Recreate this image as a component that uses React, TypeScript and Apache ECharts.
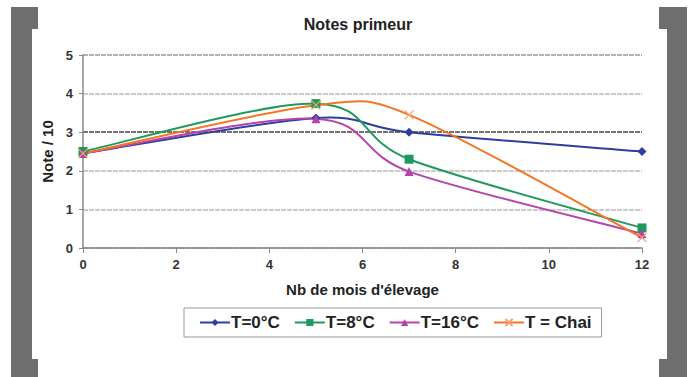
import React, { useEffect, useRef } from "react";
import * as echarts from "echarts";

const months = [0, 5, 7, 12];
const t0 = [2.45, 3.37, 3.0, 2.5];
const t8 = [2.5, 3.74, 2.3, 0.52];
const t16 = [2.45, 3.35, 1.98, 0.37];
const tChai = [2.45, 3.7, 3.45, 0.27];
const seriesNames = ["T=0°C", "T=8°C", "T=16°C", "T = Chai"];
const colors = ["#2f3e9c", "#1f9a5c", "#b444aa", "#f47422"];
const xTicks = [0, 2, 4, 6, 8, 10, 12];

const pair = (ys: number[]) => months.map((m, i) => [m, ys[i]]);

// Excel-like smoothed curve: Catmull-Rom (1/6) control points in pixel space,
// each control arm limited to half of its segment's length
function smoothPath(pts: number[][]) {
  const n = pts.length;
  const clamp = (v: number[], maxLen: number) => {
    const len = Math.hypot(v[0], v[1]);
    if (len <= maxLen || len === 0) return v;
    return [(v[0] * maxLen) / len, (v[1] * maxLen) / len];
  };
  let d = `M${pts[0][0]},${pts[0][1]}`;
  for (let i = 0; i < n - 1; i++) {
    const p0 = pts[Math.max(0, i - 1)];
    const p1 = pts[i];
    const p2 = pts[i + 1];
    const p3 = pts[Math.min(n - 1, i + 2)];
    const half = Math.hypot(p2[0] - p1[0], p2[1] - p1[1]) / 2;
    const a = clamp([(p2[0] - p0[0]) / 6, (p2[1] - p0[1]) / 6], half);
    const b = clamp([(p3[0] - p1[0]) / 6, (p3[1] - p1[1]) / 6], half);
    d += `C${p1[0] + a[0]},${p1[1] + a[1]},${p2[0] - b[0]},${p2[1] - b[1]},${p2[0]},${p2[1]}`;
  }
  return d;
}

export default function App() {
  const ref = useRef<HTMLDivElement>(null);
  useEffect(() => {
    if (!ref.current) return;
    const chart = echarts.init(ref.current, null, { renderer: "svg" });
    const font = "Arial, 'Liberation Sans', sans-serif";
    const allData = [t0, t8, t16, tChai];
    const curve = (idx: number) => ({
      name: "_curve" + idx,
      type: "custom",
      data: pair(allData[idx]),
      z: 2,
      silent: true,
      renderItem: (params: any, api: any) => {
        if (params.dataIndex !== 0) return null;
        const pts = pair(allData[idx]).map((p) => api.coord(p));
        return {
          type: "path",
          shape: { pathData: smoothPath(pts) },
          style: { fill: "none", stroke: colors[idx], lineWidth: 2 },
        };
      },
    });
    const markers = (idx: number, symbol: string, size: number, itemStyle: any) => ({
      name: seriesNames[idx],
      type: "line",
      data: pair(allData[idx]),
      symbol,
      symbolSize: size,
      lineStyle: { color: colors[idx], width: 2, opacity: 0 },
      itemStyle,
      z: 3,
    });
    chart.setOption({
      animation: false,
      backgroundColor: "#ffffff",
      textStyle: { fontFamily: font },
      graphic: {
        elements: [
          { type: "rect", z: -10, shape: { x: 11, y: 7, width: 27, height: 370 }, style: { fill: "#6e6e6e" } },
          { type: "rect", z: -10, shape: { x: 659, y: 7, width: 28, height: 370 }, style: { fill: "#6e6e6e" } },
          { type: "rect", z: -9, shape: { x: 32, y: 29, width: 635, height: 330 }, style: { fill: "#ffffff" } },
        ],
      },
      title: {
        text: "Notes primeur",
        left: 353,
        textAlign: "center",
        top: 11,
        textStyle: { fontSize: 16, fontWeight: "bold", color: "#222", fontFamily: font },
      },
      legend: {
        left: 184,
        top: 308,
        width: 428,
        height: 30,
        padding: [6, 10, 6, 15],
        borderColor: "#999",
        borderWidth: 1,
        itemWidth: 30,
        itemHeight: 9,
        itemGap: 14,
        data: seriesNames,
        lineStyle: { width: 2, opacity: 1 },
        textStyle: { fontSize: 17, fontWeight: "bold", color: "#222", fontFamily: font, padding: [0, 0, 0, -4] },
      },
      grid: { left: 83, right: 50, top: 55, bottom: 129, containLabel: false },
      xAxis: {
        type: "value",
        min: 0,
        max: 12,
        interval: 2,
        name: "Nb de mois d'élevage",
        nameLocation: "middle",
        nameGap: 34,
        nameTextStyle: { fontSize: 15, fontWeight: "bold", color: "#222" },
        axisLine: { show: true, lineStyle: { color: "#888", width: 1.5 } },
        axisTick: { show: true, length: 5, lineStyle: { color: "#888" } },
        axisLabel: {
          fontSize: 13,
          fontWeight: "bold",
          color: "#333",
          margin: 10,
          formatter: (v: number) => (xTicks.includes(v) ? String(v) : ""),
        },
        splitLine: { show: false },
      },
      yAxis: {
        type: "value",
        min: 0,
        max: 5,
        interval: 1,
        name: "Note / 10",
        nameLocation: "middle",
        nameGap: 26,
        nameRotate: 90,
        nameTextStyle: { fontSize: 15, fontWeight: "bold", color: "#222" },
        axisLine: { show: true, lineStyle: { color: "#888", width: 1.5 } },
        axisTick: { show: true, length: 4, lineStyle: { color: "#888" } },
        axisLabel: { fontSize: 13, fontWeight: "bold", color: "#333", margin: 10 },
        splitLine: {
          show: true,
          lineStyle: {
            color: ["#999", "#bbbbbb", "#bbbbbb", "#444444", "#bbbbbb", "#999999"],
            width: 1.5,
            type: [5, 1],
          },
        },
      },
      series: [
        curve(0),
        curve(1),
        curve(2),
        curve(3),
        markers(0, "diamond", 9, { color: colors[0] }),
        markers(1, "rect", 9, { color: colors[1] }),
        markers(2, "triangle", 9, { color: colors[2] }),
        markers(3, "path://M0,0L10,10M10,0L0,10", 9, { color: "none", borderColor: "#f9a070", borderWidth: 1.2 }),
      ],
    });
    return () => chart.dispose();
  }, []);
  return <div ref={ref} style={{ width: 692, height: 377, position: "absolute", left: 0, top: 0 }} />;
}
